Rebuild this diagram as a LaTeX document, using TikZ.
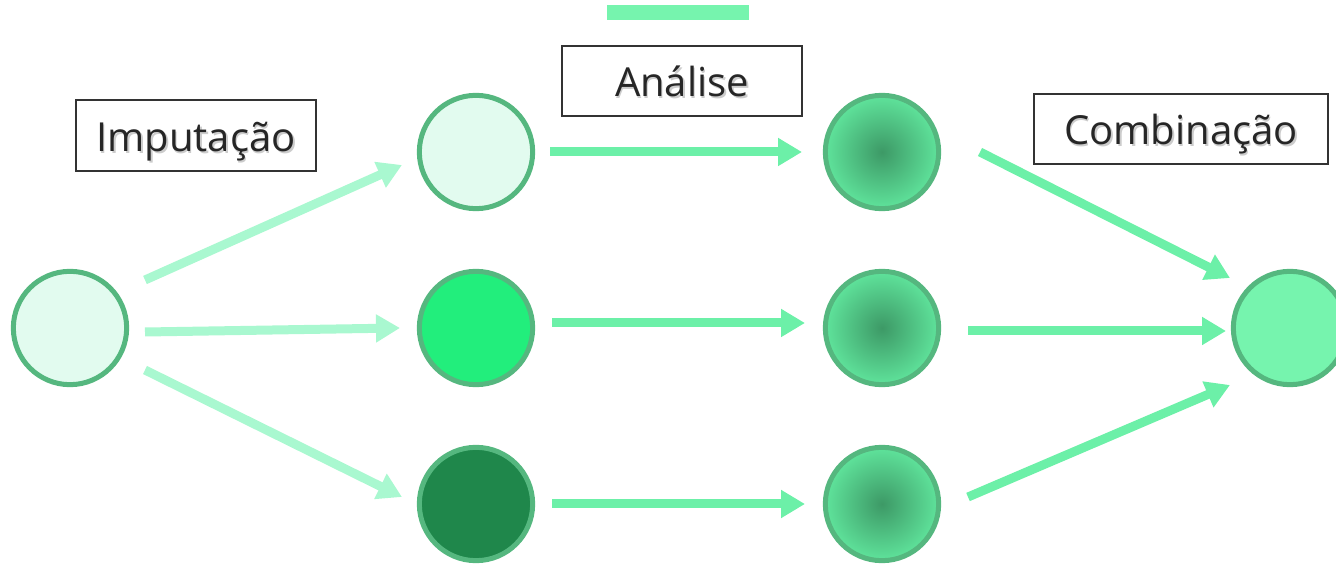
\documentclass[tikz,border=0pt]{standalone}
\usepackage{fontspec}
\setmainfont{Open Sans}
\usetikzlibrary{arrows.meta,calc}
\definecolor{ring}{HTML}{55B77F}
\definecolor{pale}{HTML}{E2FBEF}
\definecolor{bright}{HTML}{22EE7C}
\definecolor{deep}{HTML}{1F874B}
\definecolor{mint}{HTML}{76F4AE}
\definecolor{arrlight}{HTML}{A9F8D0}
\definecolor{arrmid}{HTML}{6CF0A8}
\definecolor{ballin}{HTML}{3D9966}
\definecolor{ballout}{HTML}{5FE39B}
\definecolor{ink}{HTML}{262626}
\pgfdeclareradialshading{ball}{\pgfpoint{0bp}{0bp}}{color(0bp)=(ballin); color(25bp)=(ballout); color(50bp)=(ballout)}
\newcommand{\shtext}[1]{\rlap{\hspace{1.2pt}\raisebox{-1.2pt}{\color{black!20}#1}}#1}
\tikzset{
  ball/.style={circle, draw=ring, line width=3.75pt, minimum size=85pt, inner sep=0pt},
  label box/.style={draw=black!80, line width=1.5pt, fill=white, minimum height=53pt, inner sep=0pt,
    text height=24pt, text depth=0pt, text=ink, font=\fontsize{30}{36}\selectfont},
  arr/.style={line width=6.75pt, -{Triangle[length=18pt,width=20pt]}},
}
\begin{document}
\begin{tikzpicture}[x=0.75pt,y=-0.75pt]
\useasboundingbox (0,0) rectangle (1336,566);
\fill[mint] (607,5) rectangle (749,20);
% circles
\node[ball, fill=pale] (L) at (70,328) {};
\node[ball, fill=pale] (M1) at (476,152) {};
\node[ball, fill=bright] (M2) at (476,328) {};
\node[ball, fill=deep] (M3) at (476,504) {};
\node[ball, shading=ball] (R1) at (882,152) {};
\node[ball, shading=ball] (R2) at (882,328) {};
\node[ball, shading=ball] (R3) at (882,504) {};
\node[ball, fill=mint] (F) at (1290,328) {};
% labels
\node[label box, minimum width=180pt] (t1) at (196,135.5) {\shtext{Imputação}};
\node[label box, minimum width=180pt] (t2) at (682,81) {\shtext{Análise}};
\node[label box, minimum width=220.5pt] (t3) at (1181,129) {\shtext{Combinação}};
% arrows
\draw[arr, arrlight] ($(L)+(75,-48)$) -- ($(M1)+(-74,13)$);
\draw[arr, arrlight] ($(L)+(75,4)$) -- ($(M2)+(-76,0)$);
\draw[arr, arrlight] ($(L)+(75,42)$) -- ($(M3)+(-74,-7)$);
\draw[arr, arrmid] ($(M1)+(74,0)$) -- ($(R1)+(-80,0)$);
\draw[arr, arrmid] ($(M2)+(76,-5)$) -- ($(R2)+(-77,-5)$);
\draw[arr, arrmid] ($(M3)+(76,0)$) -- ($(R3)+(-77,0)$);
\draw[arr, arrmid] ($(R1)+(98,0)$) -- ($(F)+(-60,-50)$);
\draw[arr, arrmid] ($(R2)+(86,3)$) -- ($(F)+(-64,3)$);
\draw[arr, arrmid] ($(R3)+(86,-7)$) -- ($(F)+(-60,57)$);
\end{tikzpicture}
\end{document}
